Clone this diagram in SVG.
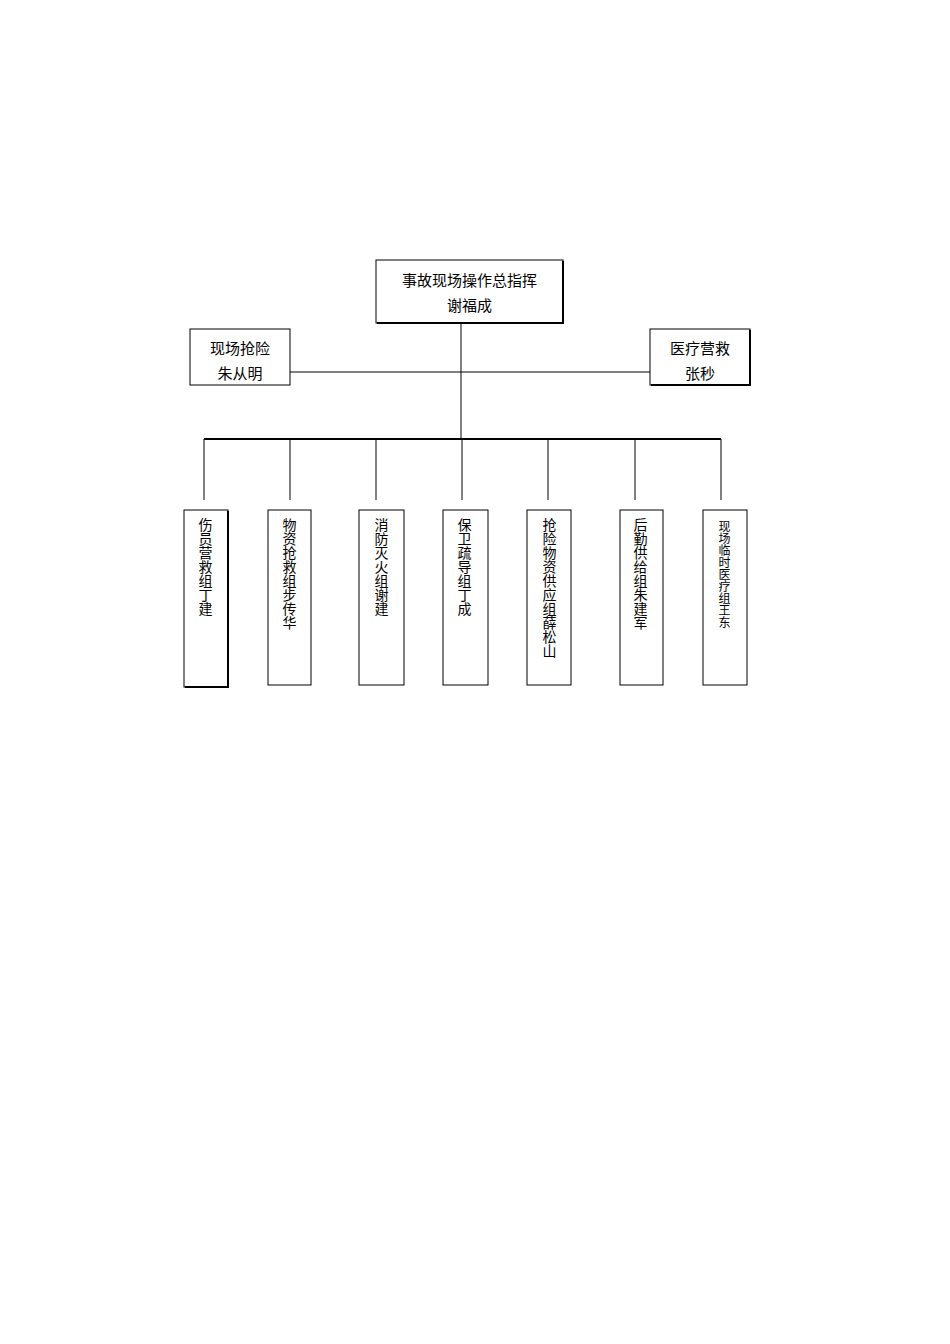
<svg xmlns="http://www.w3.org/2000/svg" width="950" height="1344" viewBox="0 0 950 1344">
<style>
rect{fill:#fff;stroke:#000;stroke-width:1}
.sh{fill:none;stroke:#000;stroke-width:2}
text{font-family:"Liberation Serif","Noto Sans CJK SC",serif;font-size:15px;fill:#000}
.v{writing-mode:vertical-rl;text-orientation:upright;font-size:14px}
.s{font-size:12px}
#conn line{stroke:#000;stroke-width:1}
</style>
<rect width="950" height="1344" style="stroke:none"/>
<g id="conn">
<line x1="461" y1="323" x2="461" y2="438"/>
<line x1="290" y1="372" x2="650" y2="372"/>
<line x1="204" y1="439" x2="721" y2="439" style="stroke-width:2"/>
<line x1="204" y1="439" x2="204" y2="500"/>
<line x1="290" y1="439" x2="290" y2="500"/>
<line x1="376" y1="439" x2="376" y2="500"/>
<line x1="462" y1="439" x2="462" y2="500"/>
<line x1="548" y1="439" x2="548" y2="500"/>
<line x1="635" y1="439" x2="635" y2="500"/>
<line x1="721" y1="439" x2="721" y2="500"/>
</g>
<g id="top"><rect x="376" y="260" width="187" height="63"/><path class="sh" d="M563 261V323H377"/>
<text x="469.5" y="286" text-anchor="middle">事故现场操作总指挥</text><text x="469.5" y="311" text-anchor="middle">谢福成</text></g>
<g id="left"><rect x="190" y="329" width="100" height="56"/>
<text x="240" y="354" text-anchor="middle">现场抢险</text><text x="240" y="379" text-anchor="middle">朱从明</text></g>
<g id="right"><rect x="650" y="329" width="100" height="56"/><path class="sh" d="M750 330V385H651"/>
<text x="700" y="354" text-anchor="middle">医疗营救</text><text x="700" y="379" text-anchor="middle">张秒</text></g>
<g id="b1"><rect x="184" y="510" width="44" height="177"/><path class="sh" d="M228 511V687H185"/><text class="v" x="204" y="518">伤员营救组丁建</text></g>
<g id="b2"><rect x="268" y="510" width="43" height="175"/><text class="v" x="288" y="518">物资抢救组步传华</text></g>
<g id="b3"><rect x="359" y="510" width="45" height="175"/><text class="v" x="380" y="518">消防灭火组谢建</text></g>
<g id="b4"><rect x="443" y="510" width="45" height="175"/><text class="v" x="463" y="518">保卫疏导组丁成</text></g>
<g id="b5"><rect x="527" y="510" width="44" height="175"/><text class="v" x="548" y="518">抢险物资供应组薛松山</text></g>
<g id="b6"><rect x="620" y="510" width="43" height="175"/><text class="v" x="639" y="518">后勤供给组朱建军</text></g>
<g id="b7"><rect x="703" y="510" width="44" height="175"/><text class="v s" x="723" y="520">现场临时医疗组王东</text></g>
</svg>
